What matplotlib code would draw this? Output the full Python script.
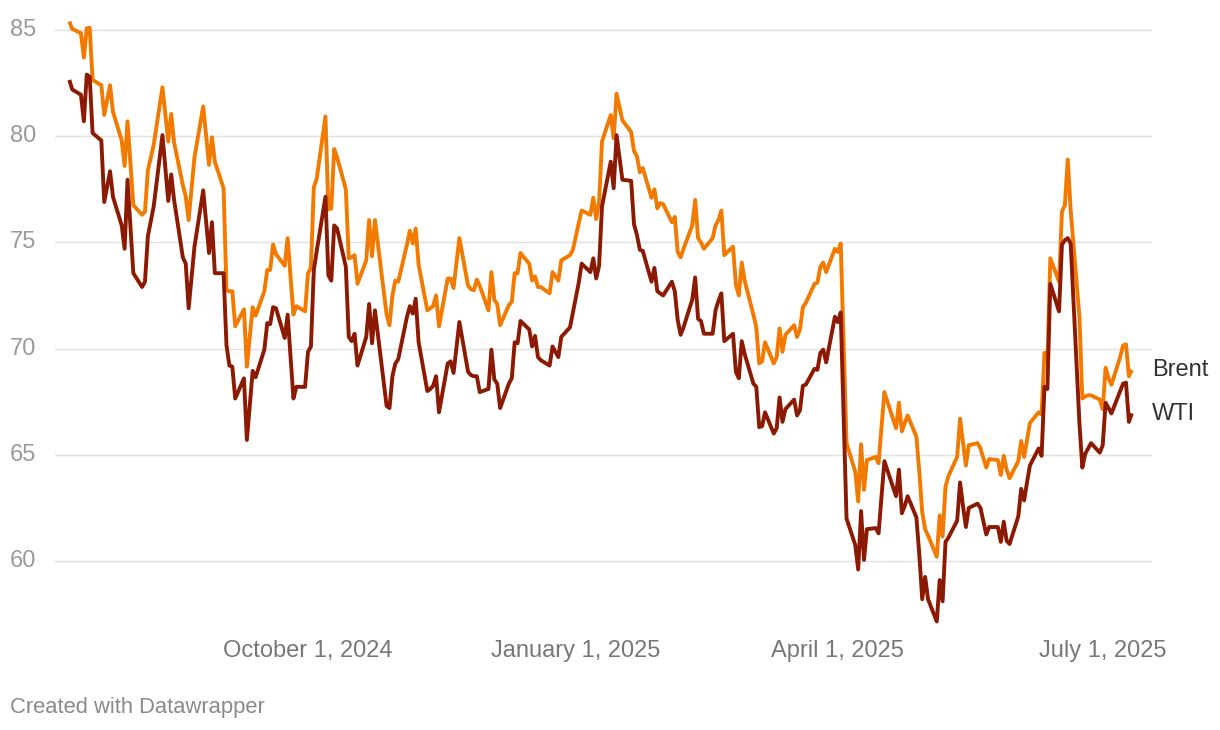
import matplotlib
matplotlib.use("Agg")
import matplotlib.pyplot as plt
import matplotlib.dates as mdates
import matplotlib.transforms as mtransforms
from datetime import datetime

dates = [
    "2024-07-11", "2024-07-12", "2024-07-15", "2024-07-16", "2024-07-17", "2024-07-18", "2024-07-19",
    "2024-07-22", "2024-07-23", "2024-07-25", "2024-07-26", "2024-07-29", "2024-07-30", "2024-07-31",
    "2024-08-02", "2024-08-05", "2024-08-06", "2024-08-07", "2024-08-09", "2024-08-12", "2024-08-14",
    "2024-08-15", "2024-08-16", "2024-08-19", "2024-08-20", "2024-08-21", "2024-08-23", "2024-08-26",
    "2024-08-28", "2024-08-29", "2024-08-30", "2024-09-02", "2024-09-03", "2024-09-04", "2024-09-05",
    "2024-09-06", "2024-09-09", "2024-09-10", "2024-09-12", "2024-09-13", "2024-09-16", "2024-09-17",
    "2024-09-18", "2024-09-19", "2024-09-20", "2024-09-23", "2024-09-24", "2024-09-26", "2024-09-27",
    "2024-09-30", "2024-10-01", "2024-10-02", "2024-10-03", "2024-10-04", "2024-10-07", "2024-10-08",
    "2024-10-09", "2024-10-10", "2024-10-11", "2024-10-14", "2024-10-15", "2024-10-16", "2024-10-17",
    "2024-10-18", "2024-10-21", "2024-10-22", "2024-10-23", "2024-10-24", "2024-10-28", "2024-10-29",
    "2024-10-30", "2024-10-31", "2024-11-01", "2024-11-04", "2024-11-05", "2024-11-06", "2024-11-07",
    "2024-11-08", "2024-11-11", "2024-11-12", "2024-11-13", "2024-11-14", "2024-11-15", "2024-11-18",
    "2024-11-19", "2024-11-20", "2024-11-22", "2024-11-25", "2024-11-26", "2024-11-27", "2024-11-28",
    "2024-11-29", "2024-12-02", "2024-12-03", "2024-12-04", "2024-12-05", "2024-12-06", "2024-12-09",
    "2024-12-10", "2024-12-11", "2024-12-12", "2024-12-13", "2024-12-16", "2024-12-17", "2024-12-18",
    "2024-12-19", "2024-12-20", "2024-12-23", "2024-12-24", "2024-12-26", "2024-12-27", "2024-12-30",
    "2024-12-31", "2025-01-02", "2025-01-03", "2025-01-06", "2025-01-07", "2025-01-08", "2025-01-09",
    "2025-01-10", "2025-01-13", "2025-01-14", "2025-01-15", "2025-01-17", "2025-01-20", "2025-01-21",
    "2025-01-22", "2025-01-23", "2025-01-24", "2025-01-27", "2025-01-28", "2025-01-29", "2025-01-30",
    "2025-01-31", "2025-02-03", "2025-02-04", "2025-02-05", "2025-02-06", "2025-02-07", "2025-02-10",
    "2025-02-11", "2025-02-12", "2025-02-13", "2025-02-14", "2025-02-17", "2025-02-18", "2025-02-19",
    "2025-02-20", "2025-02-21", "2025-02-24", "2025-02-25", "2025-02-26", "2025-02-27", "2025-02-28",
    "2025-03-03", "2025-03-04", "2025-03-05", "2025-03-06", "2025-03-07", "2025-03-10", "2025-03-11",
    "2025-03-12", "2025-03-13", "2025-03-14", "2025-03-17", "2025-03-18", "2025-03-19", "2025-03-20",
    "2025-03-21", "2025-03-24", "2025-03-25", "2025-03-26", "2025-03-27", "2025-03-28", "2025-03-31",
    "2025-04-01", "2025-04-02", "2025-04-03", "2025-04-04", "2025-04-07", "2025-04-08", "2025-04-09",
    "2025-04-10", "2025-04-11", "2025-04-14", "2025-04-15", "2025-04-16", "2025-04-17", "2025-04-21",
    "2025-04-22", "2025-04-23", "2025-04-24", "2025-04-25", "2025-04-28", "2025-04-29", "2025-04-30",
    "2025-05-01", "2025-05-02", "2025-05-05", "2025-05-06", "2025-05-07", "2025-05-08", "2025-05-09",
    "2025-05-12", "2025-05-13", "2025-05-14", "2025-05-15", "2025-05-16", "2025-05-19", "2025-05-20",
    "2025-05-22", "2025-05-23", "2025-05-26", "2025-05-27", "2025-05-28", "2025-05-29", "2025-05-30",
    "2025-06-02", "2025-06-03", "2025-06-04", "2025-06-05", "2025-06-06", "2025-06-09", "2025-06-10",
    "2025-06-11", "2025-06-12", "2025-06-13", "2025-06-16", "2025-06-17", "2025-06-18", "2025-06-19",
    "2025-06-20", "2025-06-23", "2025-06-24", "2025-06-25", "2025-06-26", "2025-06-27", "2025-06-30",
    "2025-07-01", "2025-07-02", "2025-07-03", "2025-07-04", "2025-07-07", "2025-07-08", "2025-07-09",
    "2025-07-10", "2025-07-11",
]

brent = [
    85.4, 85.05, 84.85, 83.7, 85.08, 85.1, 82.65,
    82.4, 81.0, 82.4, 81.15, 79.8, 78.6, 80.7,
    76.75, 76.3, 76.45, 78.4, 79.6, 82.3, 79.75,
    81.05, 79.7, 77.7, 77.15, 76.05, 79.0, 81.4,
    78.65, 79.95, 78.8, 77.55, 72.75, 72.7, 72.7,
    71.05, 71.85, 69.15, 71.95, 71.55, 72.7, 73.7,
    73.7, 74.9, 74.45, 73.9, 75.2, 71.6, 72.0,
    71.75, 73.55, 73.8, 77.6, 78.0, 80.93, 76.55,
    76.6, 79.4, 79.0, 77.5, 74.25, 74.3, 74.4,
    73.05, 74.15, 76.05, 74.35, 76.05, 71.6, 71.1,
    72.5, 73.2, 73.15, 74.9, 75.55, 74.95, 75.65,
    73.95, 71.8, 71.9, 72.0, 72.5, 71.05, 73.3,
    73.3, 72.85, 75.2, 72.95, 72.8, 72.75, 73.25,
    72.95, 71.8, 73.6, 72.3, 72.1, 71.1, 72.05,
    72.2, 73.55, 73.55, 74.5, 74.0, 73.2, 73.4,
    72.9, 72.9, 72.6, 73.6, 73.2, 74.15, 74.4,
    74.65, 75.9, 76.5, 76.3, 77.1, 76.1, 76.9,
    79.75, 81.0, 79.9, 82.0, 80.75, 80.2, 79.3,
    79.05, 78.3, 78.5, 77.1, 77.5, 76.6, 76.85,
    76.8, 75.95, 76.2, 74.55, 74.3, 74.7, 75.8,
    77.0, 75.2, 75.0, 74.7, 75.2, 75.8, 76.05,
    76.5, 74.4, 74.8, 73.0, 72.5, 74.05, 73.2,
    71.6, 71.0, 69.3, 69.4, 70.3, 69.3, 69.6,
    70.95, 69.85, 70.65, 71.1, 70.55, 70.9, 71.95,
    72.15, 73.05, 73.1, 73.85, 74.05, 73.6, 74.7,
    74.55, 74.95, 70.2, 65.55, 64.2, 62.8, 65.5,
    63.35, 64.75, 64.9, 64.6, 66.3, 67.95, 66.25,
    67.45, 66.1, 66.5, 66.85, 65.85, 64.2, 62.3,
    61.5, 61.2, 60.2, 62.15, 61.15, 63.5, 64.0,
    64.9, 66.7, 65.6, 64.5, 65.45, 65.55, 65.3,
    64.4, 64.8, 64.75, 64.05, 64.95, 64.3, 63.9,
    64.7, 65.65, 64.9, 65.7, 66.5, 67.0, 66.9,
    69.8, 69.4, 74.25, 73.15, 76.45, 76.75, 78.9,
    76.5, 71.5, 67.65, 67.75, 67.8, 67.8, 67.6,
    67.15, 69.1, 68.6, 68.3, 69.6, 70.15, 70.2,
    68.7, 69.0,
]

wti = [
    82.65, 82.2, 81.95, 80.7, 82.9, 82.8, 80.15,
    79.8, 76.9, 78.35, 77.15, 75.8, 74.7, 77.95,
    73.55, 72.9, 73.15, 75.3, 76.7, 80.05, 76.95,
    78.2, 77.0, 74.3, 74.0, 71.9, 74.8, 77.45,
    74.5, 75.95, 73.55, 73.55, 70.15, 69.2, 69.15,
    67.65, 68.6, 65.7, 68.95, 68.65, 69.95, 71.2,
    71.15, 71.95, 71.9, 70.5, 71.6, 67.65, 68.2,
    68.2, 69.85, 70.1, 73.7, 74.6, 77.15, 73.45,
    73.2, 75.8, 75.65, 73.85, 70.55, 70.35, 70.7,
    69.2, 70.55, 72.1, 70.25, 71.8, 67.3, 67.2,
    68.7, 69.3, 69.5, 71.5, 72.0, 71.65, 72.35,
    70.3, 68.0, 68.1, 68.25, 68.7, 67.0, 69.3,
    69.4, 68.85, 71.25, 68.9, 68.75, 68.7, 68.7,
    67.95, 68.1, 69.95, 68.55, 68.35, 67.2, 68.35,
    68.6, 70.3, 70.25, 71.3, 70.9, 70.1, 70.6,
    69.6, 69.45, 69.2, 70.1, 69.6, 70.55, 71.0,
    71.7, 73.1, 74.0, 73.6, 74.25, 73.3, 73.9,
    76.7, 78.8, 77.55, 80.05, 77.95, 77.9, 75.85,
    75.35, 74.65, 74.6, 73.15, 73.8, 72.7, 72.6,
    72.5, 73.15, 72.7, 71.35, 70.65, 71.0, 72.3,
    73.35, 71.4, 71.3, 70.7, 70.7, 71.8, 72.25,
    72.6, 70.35, 70.7, 68.9, 68.6, 70.35, 69.75,
    68.35, 68.2, 66.3, 66.35, 67.0, 66.0, 66.25,
    67.7, 66.55, 67.15, 67.6, 66.85, 67.1, 68.25,
    68.3, 69.05, 69.0, 69.8, 69.95, 69.35, 71.5,
    71.25, 71.7, 66.9, 62.0, 60.75, 59.6, 62.35,
    60.05, 61.5, 61.55, 61.3, 63.0, 64.7, 63.05,
    64.3, 62.25, 62.6, 63.05, 62.05, 60.3, 58.2,
    59.25, 58.2, 57.15, 59.1, 58.1, 60.9, 61.1,
    61.9, 63.7, 62.6, 61.6, 62.5, 62.7, 62.5,
    61.25, 61.6, 61.6, 60.9, 61.85, 60.95, 60.8,
    62.1, 63.4, 62.85, 63.7, 64.5, 65.3, 64.95,
    68.2, 68.1, 73.05, 71.75, 74.9, 75.1, 75.2,
    74.95, 66.5, 64.4, 65.05, 65.3, 65.55, 65.1,
    65.45, 67.45, 67.2, 66.95, 68.0, 68.35, 68.4,
    66.55, 66.95,
]

series_names = ["Brent", "WTI"]
series_colors = ["#f27a00", "#8c1a02"]
y_ticks = [60, 65, 70, 75, 80, 85]
x_tick_dates = ["2024-10-01", "2025-01-01", "2025-04-01", "2025-07-01"]
x_tick_labels = ["October 1, 2024", "January 1, 2025", "April 1, 2025", "July 1, 2025"]

plt.rcParams["font.family"] = ["Liberation Sans", "DejaVu Sans"]

W, H = 1220, 730
fig = plt.figure(figsize=(W / 100, H / 100), dpi=100)
fig.patch.set_facecolor("white")

# plot area in pixels
left_px, right_px, top_px, bottom_px = 55, 1152, 10, 630
ax = fig.add_axes([left_px / W, (H - bottom_px) / H, (right_px - left_px) / W, (bottom_px - top_px) / H])

px_per_day = 2.911
ref = mdates.date2num(datetime(2024, 10, 1))
ref_px = 308
ax.set_xlim(ref + (left_px - ref_px) / px_per_day, ref + (right_px - ref_px) / px_per_day)
px_per_unit = 21.24
ax.set_ylim(85 - (bottom_px - 30) / px_per_unit, 85 + (30 - top_px) / px_per_unit)

x = [mdates.date2num(datetime.strptime(d, "%Y-%m-%d")) for d in dates]

for t in y_ticks:
    ax.axhline(t, color="#e0e0e0", lw=1.0, zorder=1)

ax.plot(x, brent, color=series_colors[0], lw=2.8, solid_joinstyle="round", solid_capstyle="butt", zorder=3)
ax.plot(x, wti, color=series_colors[1], lw=2.8, solid_joinstyle="round", solid_capstyle="butt", zorder=4)

for s in ax.spines.values():
    s.set_visible(False)
ax.set_yticks([])
xt = [mdates.date2num(datetime.strptime(d, "%Y-%m-%d")) for d in x_tick_dates]
ax.set_xticks(xt)
ax.set_xticklabels(x_tick_labels)
ax.tick_params(axis="x", length=0, pad=7, labelsize=17, labelcolor="#777777")

ytrans = mtransforms.blended_transform_factory(fig.transFigure, ax.transData)
for t in y_ticks:
    fig.text(10 / W, t, str(t), transform=ytrans, ha="left", va="center",
             fontsize=17, color="#9a9a9a")

ltrans = mtransforms.blended_transform_factory(ax.transAxes, ax.transData)
ax.text(1.0, brent[-1] - 0.02, series_names[0], transform=ltrans, ha="left", va="center",
        fontsize=17, color="#333333", clip_on=False)
ax.text(1.0, wti[-1] - 0.02, series_names[1], transform=ltrans, ha="left", va="center",
        fontsize=17, color="#333333", clip_on=False)

fig.text(10 / W, 1 - 707 / H, "Created with Datawrapper", ha="left", va="center",
         fontsize=15.8, color="#8a8a8a")

fig.savefig("out.png", dpi=100)
